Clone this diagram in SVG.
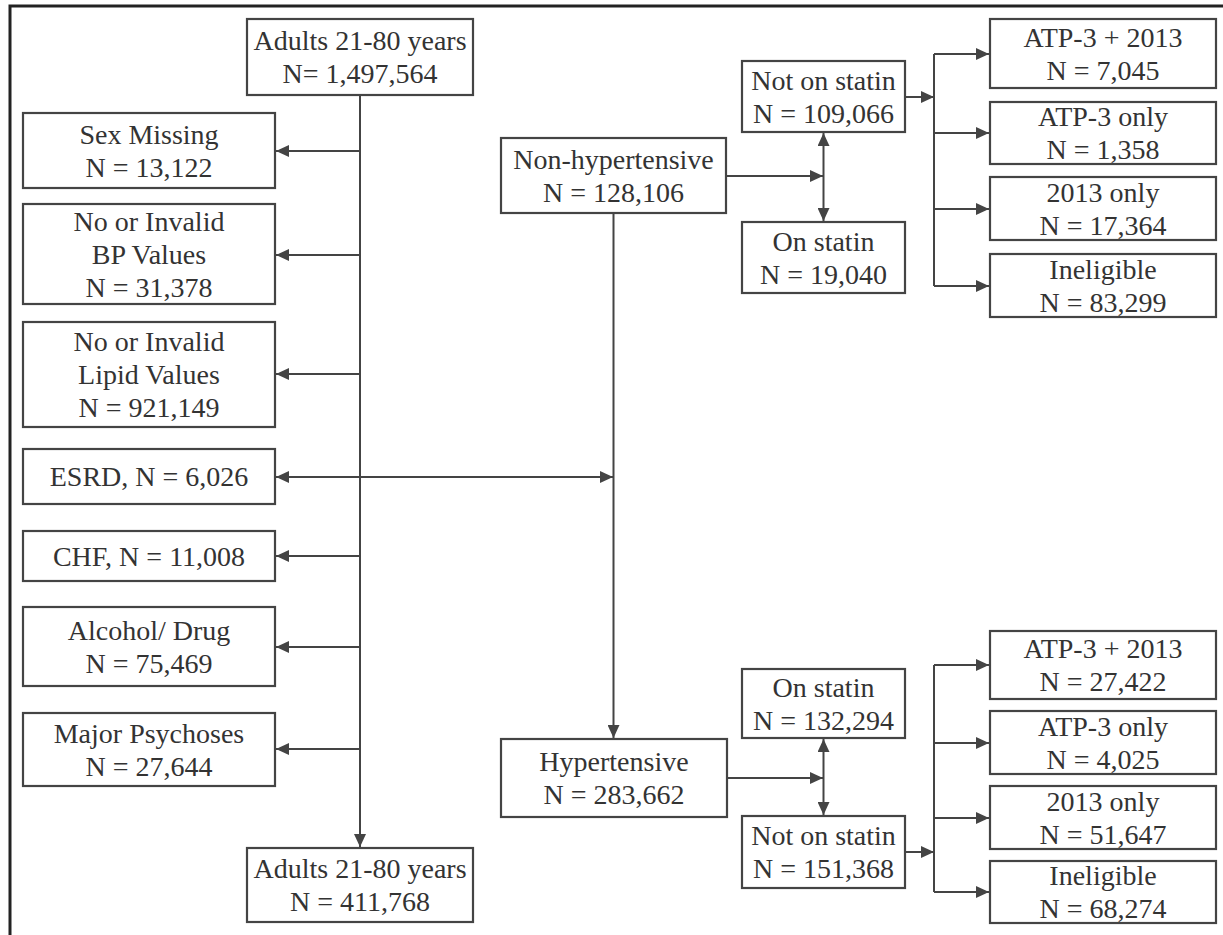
<svg xmlns="http://www.w3.org/2000/svg" width="1223" height="935" viewBox="0 0 1223 935">
<style>
.box{fill:#fff;stroke:#444;stroke-width:2.2}
.t{font-family:"Liberation Serif","Times New Roman",serif;font-size:28px;fill:#333;text-anchor:middle}
.c{fill:none;stroke:#444;stroke-width:2}
.a{marker-end:url(#ah)}
.frame{fill:none;stroke:#222;stroke-width:3}
</style>
<defs>
<marker id="ah" markerUnits="userSpaceOnUse" markerWidth="14" markerHeight="12" refX="13" refY="6" orient="auto">
<path d="M0,0 L13,6 L0,12 z" fill="#444"/>
</marker>
</defs>
<rect width="1223" height="935" fill="#fff"/>
<path class="frame" d="M10,940 V6 H1225"/>
<g id="connectors">
<path class="c a" d="M360,95 V847"/>
<path class="c a" d="M360,151 H276"/>
<path class="c a" d="M360,255 H276"/>
<path class="c a" d="M360,374 H276"/>
<path class="c a" d="M360,477 H276"/>
<path class="c a" d="M360,477 H613"/>
<path class="c a" d="M360,556 H276"/>
<path class="c a" d="M360,647 H276"/>
<path class="c a" d="M360,749 H276"/>
<path class="c a" d="M613.5,213 V738"/>
<path class="c a" d="M726,176 H823"/>
<path class="c a" d="M823.5,176 V133"/>
<path class="c a" d="M823.5,176 V221"/>
<path class="c a" d="M905,97 H934"/>
<path class="c" d="M934,54 V286"/>
<path class="c a" d="M934,54 H989"/>
<path class="c a" d="M934,133 H989"/>
<path class="c a" d="M934,209 H989"/>
<path class="c a" d="M934,286 H989"/>
<path class="c a" d="M727,778 H823"/>
<path class="c a" d="M823.5,778 V739"/>
<path class="c a" d="M823.5,778 V815"/>
<path class="c a" d="M905,852 H934"/>
<path class="c" d="M934,665 V892"/>
<path class="c a" d="M934,665 H989"/>
<path class="c a" d="M934,743 H989"/>
<path class="c a" d="M934,818 H989"/>
<path class="c a" d="M934,892 H989"/>
</g>
<g id="n-top"><rect class="box" x="247" y="19" width="226" height="76"/><text class="t" x="360" y="50">Adults 21-80 years</text><text class="t" x="360" y="83">N= 1,497,564</text></g>
<g id="n-sex"><rect class="box" x="23" y="113" width="252" height="75"/><text class="t" x="149" y="143.5">Sex Missing</text><text class="t" x="149" y="176.5">N = 13,122</text></g>
<g id="n-bp"><rect class="box" x="23" y="204" width="252" height="100"/><text class="t" x="149" y="230.5">No or Invalid</text><text class="t" x="149" y="263.5">BP Values</text><text class="t" x="149" y="296.5">N = 31,378</text></g>
<g id="n-lipid"><rect class="box" x="23" y="322" width="252" height="105"/><text class="t" x="149" y="351">No or Invalid</text><text class="t" x="149" y="384">Lipid Values</text><text class="t" x="149" y="417">N = 921,149</text></g>
<g id="n-esrd"><rect class="box" x="23" y="449" width="252" height="55"/><text class="t" x="149" y="486">ESRD, N = 6,026</text></g>
<g id="n-chf"><rect class="box" x="23" y="531" width="252" height="50"/><text class="t" x="149" y="565.5">CHF, N = 11,008</text></g>
<g id="n-alcohol"><rect class="box" x="23" y="607" width="252" height="79"/><text class="t" x="149" y="639.5">Alcohol/ Drug</text><text class="t" x="149" y="672.5">N = 75,469</text></g>
<g id="n-major"><rect class="box" x="23" y="713" width="252" height="73"/><text class="t" x="149" y="742.5">Major Psychoses</text><text class="t" x="149" y="775.5">N = 27,644</text></g>
<g id="n-bottom"><rect class="box" x="247" y="848" width="226" height="74"/><text class="t" x="360" y="878">Adults 21-80 years</text><text class="t" x="360" y="911">N = 411,768</text></g>
<g id="n-nonhyp"><rect class="box" x="501" y="138" width="225" height="75"/><text class="t" x="613.5" y="168.5">Non-hypertensive</text><text class="t" x="613.5" y="201.5">N = 128,106</text></g>
<g id="n-nos1"><rect class="box" x="742" y="61" width="163" height="71"/><text class="t" x="823.5" y="89.5">Not on statin</text><text class="t" x="823.5" y="122.5">N = 109,066</text></g>
<g id="n-os1"><rect class="box" x="742" y="222" width="163" height="71"/><text class="t" x="823.5" y="250.5">On statin</text><text class="t" x="823.5" y="283.5">N = 19,040</text></g>
<g id="n-r1"><rect class="box" x="990" y="19" width="226" height="69"/><text class="t" x="1103" y="46.5">ATP-3 + 2013</text><text class="t" x="1103" y="79.5">N = 7,045</text></g>
<g id="n-r2"><rect class="box" x="990" y="102" width="226" height="62"/><text class="t" x="1103" y="126">ATP-3 only</text><text class="t" x="1103" y="159">N = 1,358</text></g>
<g id="n-r3"><rect class="box" x="990" y="177" width="226" height="63"/><text class="t" x="1103" y="201.5">2013 only</text><text class="t" x="1103" y="234.5">N = 17,364</text></g>
<g id="n-r4"><rect class="box" x="990" y="254" width="226" height="63"/><text class="t" x="1103" y="278.5">Ineligible</text><text class="t" x="1103" y="311.5">N = 83,299</text></g>
<g id="n-hyp"><rect class="box" x="501" y="739" width="226" height="78"/><text class="t" x="614" y="771">Hypertensive</text><text class="t" x="614" y="804">N = 283,662</text></g>
<g id="n-os2"><rect class="box" x="742" y="669" width="163" height="69"/><text class="t" x="823.5" y="696.5">On statin</text><text class="t" x="823.5" y="729.5">N = 132,294</text></g>
<g id="n-nos2"><rect class="box" x="742" y="816" width="163" height="72"/><text class="t" x="823.5" y="845">Not on statin</text><text class="t" x="823.5" y="878">N = 151,368</text></g>
<g id="n-r5"><rect class="box" x="990" y="631" width="226" height="68"/><text class="t" x="1103" y="658">ATP-3 + 2013</text><text class="t" x="1103" y="691">N = 27,422</text></g>
<g id="n-r6"><rect class="box" x="990" y="711" width="226" height="63"/><text class="t" x="1103" y="735.5">ATP-3 only</text><text class="t" x="1103" y="768.5">N = 4,025</text></g>
<g id="n-r7"><rect class="box" x="990" y="786" width="226" height="63"/><text class="t" x="1103" y="810.5">2013 only</text><text class="t" x="1103" y="843.5">N = 51,647</text></g>
<g id="n-r8"><rect class="box" x="990" y="861" width="226" height="62"/><text class="t" x="1103" y="885">Ineligible</text><text class="t" x="1103" y="918">N = 68,274</text></g>
</svg>
